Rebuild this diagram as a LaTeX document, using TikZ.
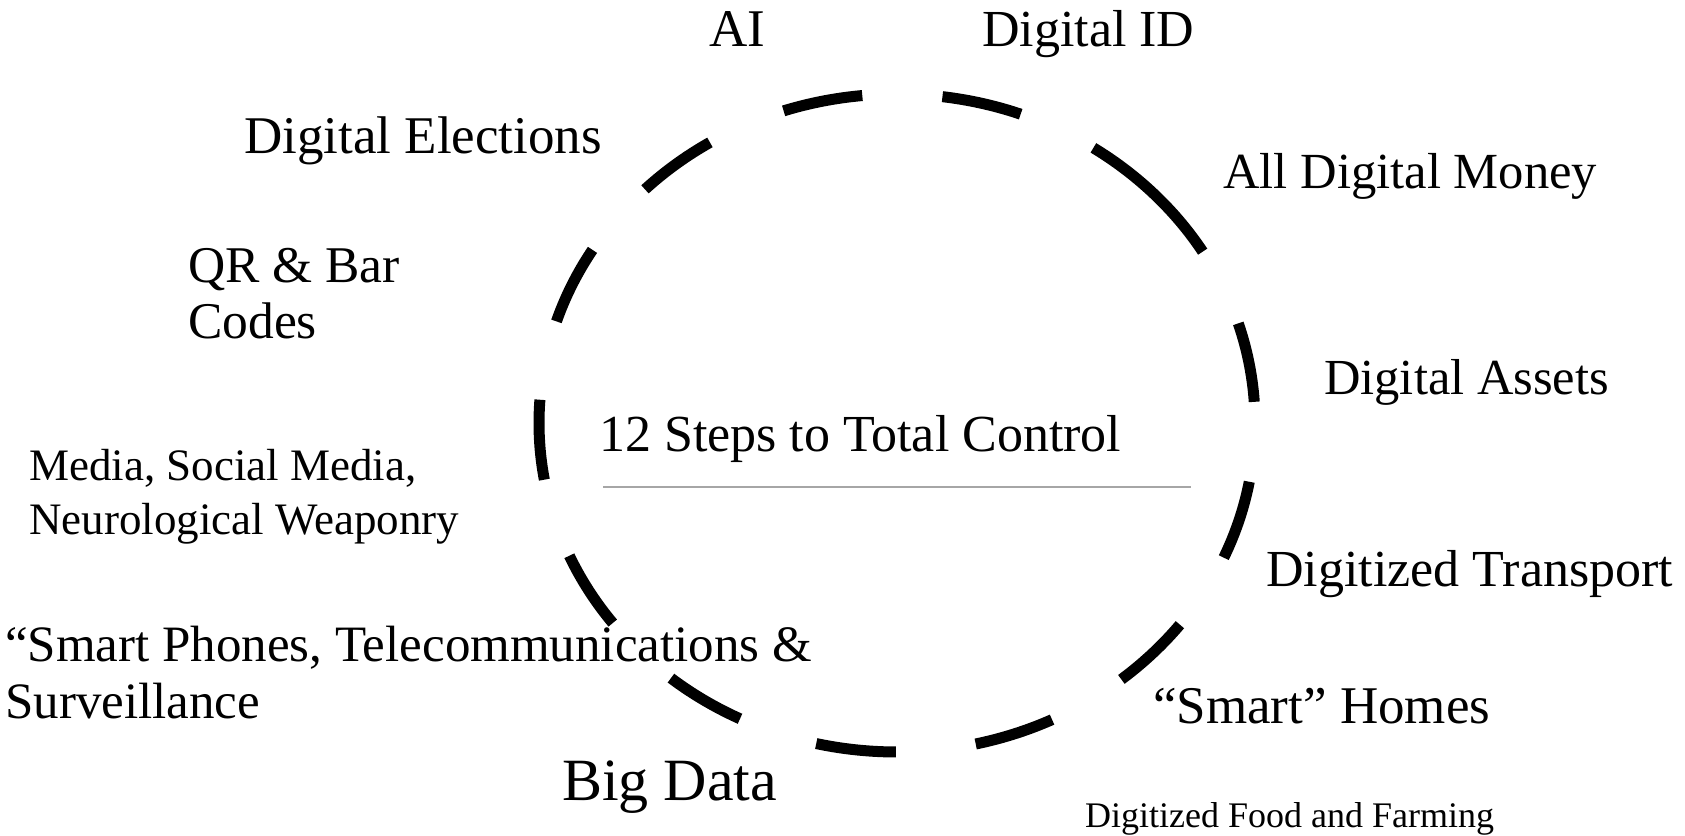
\documentclass[tikz,border=0pt]{standalone}
\usepackage{fontspec}
\setmainfont{Liberation Serif}
\tikzset{
  steplabel/.style={anchor=base west, inner sep=0pt, align=left},
  ring/.style={line width=11pt, dash pattern=on 80.3pt off 80.3pt},
}
\newcommand{\sz}[2]{\fontsize{#1}{#2}\selectfont}
\begin{document}
\begin{tikzpicture}[x=1pt,y=1pt]
        \useasboundingbox (0,0) rectangle (1685,-835);
        % dashed ring
        \draw[ring] (897,-423) ++(44.9:358 and 329) arc[start angle=44.9, end angle=-315.1, x radius=358, y radius=329];
        % title and rule
        \node[steplabel, font=\sz{52}{56}] (title) at (599,-451) {12 Steps to Total Control};
        \coordinate (ruleA) at (603,-487);
        \coordinate (ruleB) at (1191,-487);
        \draw[line width=1.2pt, gray!70] (ruleA) -- (ruleB);
        % steps (two-line labels sit on their last line)
        \node[steplabel, font=\sz{53}{56}] (ai) at (709,-46) {AI};
        \node[steplabel, font=\sz{52}{56}] (did) at (982,-46) {Digital ID};
        \node[steplabel, font=\sz{53}{56}] (elect) at (244,-153) {Digital Elections};
        \node[steplabel, font=\sz{50.6}{56}] (money) at (1223,-188) {All Digital Money};
        \node[steplabel, font=\sz{51.5}{56}] (qr) at (188,-338) {QR \& Bar\\Codes};
        \node[steplabel, font=\sz{50.5}{56}] (assets) at (1324,-394) {Digital Assets};
        \node[steplabel, font=\sz{45}{54}] (media) at (29,-534) {Media, Social Media,\\Neurological Weaponry};
        \node[steplabel, font=\sz{52}{56}] (transp) at (1266,-586) {Digitized Transport};
        \node[steplabel, font=\sz{51}{57}] (phones) at (5,-718) {“Smart Phones, Telecommunications \&\\Surveillance};
        \node[steplabel, font=\sz{53}{56}] (homes) at (1153,-723) {“Smart” Homes};
        \node[steplabel, font=\sz{60}{64}] (bigdata) at (562,-800) {Big Data};
        \node[steplabel, font=\sz{36}{40}] (food) at (1085,-827) {Digitized Food and Farming};
\end{tikzpicture}
\end{document}
